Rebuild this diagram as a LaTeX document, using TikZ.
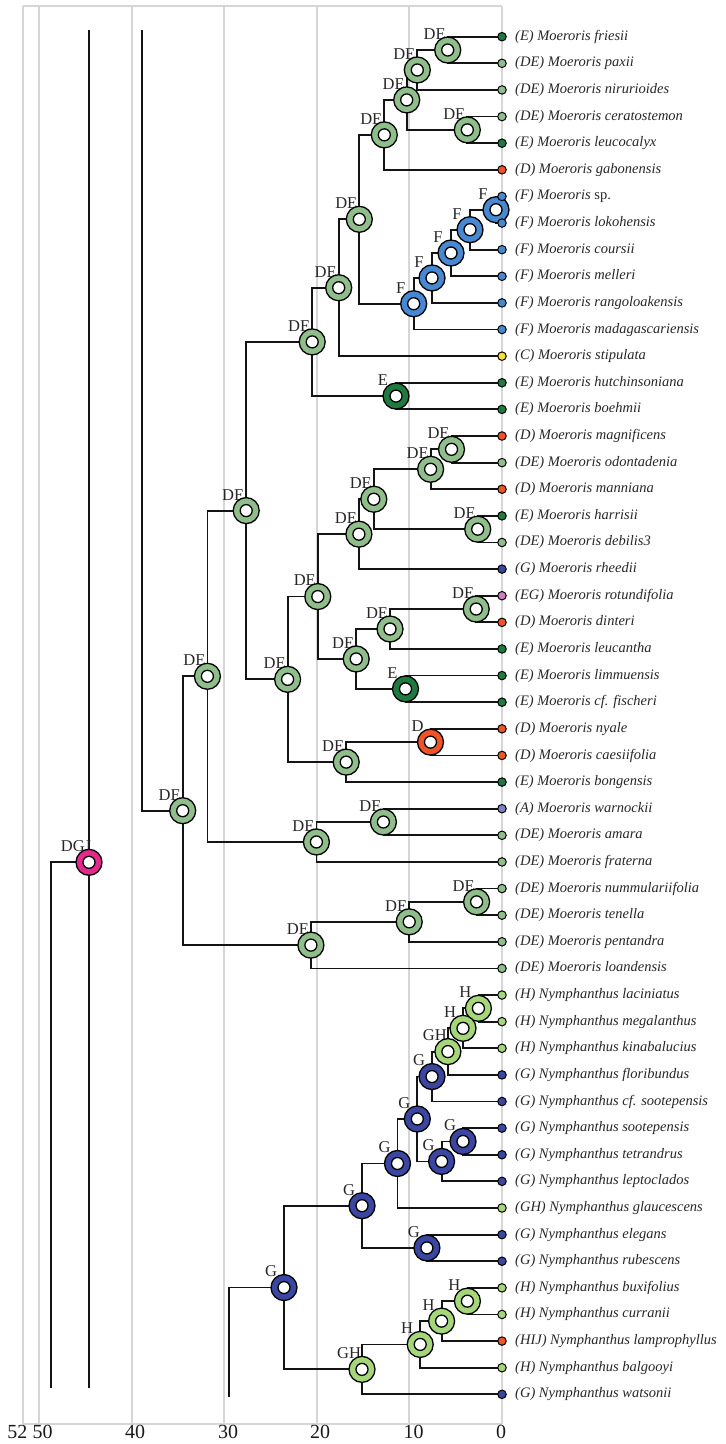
\documentclass[tikz,border=0pt]{standalone}
\usepackage{fontspec}
\setmainfont{Liberation Serif}
\usetikzlibrary{calc}
\definecolor{cDE}{RGB}{143,190,139}
\definecolor{cE}{RGB}{30,122,62}
\definecolor{cF}{RGB}{72,136,208}
\definecolor{cD}{RGB}{238,84,40}
\definecolor{cC}{RGB}{246,226,48}
\definecolor{cG}{RGB}{58,70,160}
\definecolor{cH}{RGB}{166,214,122}
\definecolor{cEG}{RGB}{206,126,192}
\definecolor{cA}{RGB}{128,128,200}
\definecolor{cDGJ}{RGB}{228,40,140}
\definecolor{gridc}{RGB}{214,214,214}
\newcommand\tiplab[3]{\node[tipdot=#2] (d#1) at (t#1) {}; \node[tiptext] (l#1) at ([xshift=13pt]t#1) {#3};}
\newcommand\twoedges[3]{\draw[edge] (#1) |- (#2); \draw[edge] (#1) |- (#3);}
\newcommand\anc[3]{\node[nlab] (lab#1) at ([xshift=-13pt,yshift=16pt]#1) {#2}; \node[ring=#3] (R#1) at (#1) {};}
\begin{document}
\begin{tikzpicture}[x=1pt,y=-1pt,
  edge/.style={line width=1.8pt,draw=black!92},
  gridline/.style={line width=1.8pt,draw=gridc},
  ring/.style={circle,draw=black,line width=1.3pt,fill=#1,minimum size=26pt,inner sep=0pt,
    path picture={\filldraw[fill=white,draw=black,line width=1.3pt] (path picture bounding box.center) circle (6pt);}},
  tipdot/.style={circle,draw=black,line width=1pt,fill=#1,minimum size=8.5pt,inner sep=0pt},
  tiptext/.style={anchor=west,inner sep=0pt,font=\fontsize{14.5}{17}\selectfont\itshape,text=black!85},
  nlab/.style={inner sep=0pt,font=\fontsize{16.5}{18}\selectfont,text=black!85},
  axlab/.style={anchor=north,inner sep=0pt,font=\fontsize{20}{22}\selectfont,text=black!90}]
\useasboundingbox (0,0) rectangle (726,1444);
% grid / frame
\foreach \gx in {23.3,39.3,131.7,224.3,316.7,409.3,502}{\draw[gridline] (\gx,6) -- (\gx,1424);}
\coordinate (fa) at (23.3,6); \coordinate (fb) at (502,6);
\coordinate (fc) at (23.3,1424); \coordinate (fd) at (502,1424);
\draw[gridline] (fa) -- (fb);
\draw[gridline] (fc) -- (fd);
\foreach \lx/\lt in {17.5/52,42.5/50,135/40,228/30,320/20,413.7/10,501/0}{\node[axlab] at (\lx,1425) {\lt};}
% tips
\foreach \i in {1,...,52}{\coordinate (t\i) at (502,{36.7+(\i-1)*26.62});}
% internal nodes
\coordinate (n1) at (447.7,50.01);
\coordinate (n2) at (417.3,69.98);
\coordinate (n4) at (467.3,129.87);
\coordinate (n3) at (406.7,99.92);
\coordinate (n5) at (384.3,134.86);
\coordinate (f1) at (496,209.73);
\coordinate (f2) at (470,229.70);
\coordinate (f3) at (451,252.99);
\coordinate (f4) at (432,277.94);
\coordinate (f5) at (413.7,303.73);
\coordinate (n6) at (359.3,219.30);
\coordinate (n7) at (338.7,287.72);
\coordinate (e1) at (396,396.07);
\coordinate (n8) at (312.2,341.90);
\coordinate (m1) at (451.5,449.31);
\coordinate (m2) at (430.6,469.28);
\coordinate (m3) at (477.7,529.17);
\coordinate (m4) at (373.8,499.22);
\coordinate (m5) at (358.9,534.16);
\coordinate (r1) at (476.2,609.03);
\coordinate (r2) at (390,629.00);
\coordinate (e2) at (405.5,688.89);
\coordinate (r3) at (356.2,658.94);
\coordinate (r4) at (317.8,596.55);
\coordinate (d1) at (430.5,742.13);
\coordinate (d2) at (346.2,762.10);
\coordinate (r5) at (287.6,679.32);
\coordinate (big) at (246.2,510.61);
\coordinate (w1) at (383.4,821.99);
\coordinate (w2) at (316.4,841.96);
\coordinate (c1) at (207.4,676.28);
\coordinate (k1) at (476.6,901.85);
\coordinate (k2) at (409.2,921.82);
\coordinate (k3) at (310.9,945.11);
\coordinate (mroot) at (182.7,810.70);
\coordinate (h1) at (478.4,1008.33);
\coordinate (h2) at (463,1028.30);
\coordinate (h3) at (447.9,1051.59);
\coordinate (g1) at (432,1076.55);
\coordinate (g2) at (463,1141.43);
\coordinate (g3) at (441.6,1161.40);
\coordinate (g4) at (417.3,1118.98);
\coordinate (g5) at (397.5,1163.48);
\coordinate (g6) at (426.9,1247.91);
\coordinate (g7) at (362,1205.70);
\coordinate (h4) at (467.4,1301.15);
\coordinate (h5) at (441.6,1321.12);
\coordinate (h6) at (420.2,1344.41);
\coordinate (gh) at (362,1369.37);
\coordinate (nroot) at (284,1287.54);
\coordinate (root) at (89,862.3);
\coordinate (rt) at (89,30); \coordinate (rb) at (89,1388);
\coordinate (rl) at (51,862.3); \coordinate (rlb) at (51,1388);
\coordinate (ms) at (142.3,30); \coordinate (ns) at (228.7,1397);
% edges
\twoedges{n1}{t1}{t2}
\twoedges{n2}{n1}{t3}
\twoedges{n4}{t4}{t5}
\twoedges{n3}{n2}{n4}
\twoedges{n5}{n3}{t6}
\twoedges{f1}{t7}{t8}
\twoedges{f2}{f1}{t9}
\twoedges{f3}{f2}{t10}
\twoedges{f4}{f3}{t11}
\twoedges{f5}{f4}{t12}
\twoedges{n6}{n5}{f5}
\twoedges{n7}{n6}{t13}
\twoedges{e1}{t14}{t15}
\twoedges{n8}{n7}{e1}
\twoedges{m1}{t16}{t17}
\twoedges{m2}{m1}{t18}
\twoedges{m3}{t19}{t20}
\twoedges{m4}{m2}{m3}
\twoedges{m5}{m4}{t21}
\twoedges{r1}{t22}{t23}
\twoedges{r2}{r1}{t24}
\twoedges{e2}{t25}{t26}
\twoedges{r3}{r2}{e2}
\twoedges{r4}{m5}{r3}
\twoedges{d1}{t27}{t28}
\twoedges{d2}{d1}{t29}
\twoedges{r5}{r4}{d2}
\twoedges{big}{n8}{r5}
\twoedges{w1}{t30}{t31}
\twoedges{w2}{w1}{t32}
\twoedges{c1}{big}{w2}
\twoedges{k1}{t33}{t34}
\twoedges{k2}{k1}{t35}
\twoedges{k3}{k2}{t36}
\twoedges{mroot}{c1}{k3}
\twoedges{h1}{t37}{t38}
\twoedges{h2}{h1}{t39}
\twoedges{h3}{h2}{t40}
\twoedges{g1}{h3}{t41}
\twoedges{g2}{t42}{t43}
\twoedges{g3}{g2}{t44}
\twoedges{g4}{g1}{g3}
\twoedges{g5}{g4}{t45}
\twoedges{g6}{t46}{t47}
\twoedges{g7}{g5}{g6}
\twoedges{h4}{t48}{t49}
\twoedges{h5}{h4}{t50}
\twoedges{h6}{h5}{t51}
\twoedges{gh}{h6}{t52}
\twoedges{nroot}{g7}{gh}
\draw[edge] (rt) -- (rb);
\draw[edge] (rlb) -- (rl) -- (root);
\draw[edge] (ms) |- (mroot);
\draw[edge] (ns) |- (nroot);
% ancestral states
\anc{n1}{DE}{cDE} \anc{n2}{DE}{cDE} \anc{n4}{DE}{cDE} \anc{n3}{DE}{cDE} \anc{n5}{DE}{cDE}
\anc{f5}{F}{cF} \anc{f4}{F}{cF} \anc{f3}{F}{cF} \anc{f2}{F}{cF} \anc{f1}{F}{cF}
\anc{n6}{DE}{cDE} \anc{n7}{DE}{cDE} \anc{e1}{E}{cE} \anc{n8}{DE}{cDE}
\anc{m1}{DE}{cDE} \anc{m2}{DE}{cDE} \anc{m3}{DE}{cDE} \anc{m4}{DE}{cDE} \anc{m5}{DE}{cDE}
\anc{r1}{DE}{cDE} \anc{r2}{DE}{cDE} \anc{e2}{E}{cE} \anc{r3}{DE}{cDE} \anc{r4}{DE}{cDE}
\anc{d1}{D}{cD} \anc{d2}{DE}{cDE} \anc{r5}{DE}{cDE} \anc{big}{DE}{cDE}
\anc{w1}{DE}{cDE} \anc{w2}{DE}{cDE} \anc{c1}{DE}{cDE}
\anc{k1}{DE}{cDE} \anc{k2}{DE}{cDE} \anc{k3}{DE}{cDE} \anc{mroot}{DE}{cDE}
\anc{h1}{H}{cH} \anc{h2}{H}{cH} \anc{h3}{GH}{cH} \anc{g1}{G}{cG}
\anc{g2}{G}{cG} \anc{g3}{G}{cG} \anc{g4}{G}{cG} \anc{g5}{G}{cG} \anc{g6}{G}{cG} \anc{g7}{G}{cG}
\anc{h4}{H}{cH} \anc{h5}{H}{cH} \anc{h6}{H}{cH} \anc{gh}{GH}{cH} \anc{nroot}{G}{cG}
\anc{root}{DGJ}{cDGJ}
% tips
\tiplab{1}{cE}{(E) Moeroris friesii}
\tiplab{2}{cDE}{(DE) Moeroris paxii}
\tiplab{3}{cDE}{(DE) Moeroris nirurioides}
\tiplab{4}{cDE}{(DE) Moeroris ceratostemon}
\tiplab{5}{cE}{(E) Moeroris leucocalyx}
\tiplab{6}{cD}{(D) Moeroris gabonensis}
\tiplab{7}{cF}{(F) Moeroris {\upshape sp.}}
\tiplab{8}{cF}{(F) Moeroris lokohensis}
\tiplab{9}{cF}{(F) Moeroris coursii}
\tiplab{10}{cF}{(F) Moeroris melleri}
\tiplab{11}{cF}{(F) Moeroris rangoloakensis}
\tiplab{12}{cF}{(F) Moeroris madagascariensis}
\tiplab{13}{cC}{(C) Moeroris stipulata}
\tiplab{14}{cE}{(E) Moeroris hutchinsoniana}
\tiplab{15}{cE}{(E) Moeroris boehmii}
\tiplab{16}{cD}{(D) Moeroris magnificens}
\tiplab{17}{cDE}{(DE) Moeroris odontadenia}
\tiplab{18}{cD}{(D) Moeroris manniana}
\tiplab{19}{cE}{(E) Moeroris harrisii}
\tiplab{20}{cDE}{(DE) Moeroris debilis3}
\tiplab{21}{cG}{(G) Moeroris rheedii}
\tiplab{22}{cEG}{(EG) Moeroris rotundifolia}
\tiplab{23}{cD}{(D) Moeroris dinteri}
\tiplab{24}{cE}{(E) Moeroris leucantha}
\tiplab{25}{cE}{(E) Moeroris limmuensis}
\tiplab{26}{cE}{(E) Moeroris cf. fischeri}
\tiplab{27}{cD}{(D) Moeroris nyale}
\tiplab{28}{cD}{(D) Moeroris caesiifolia}
\tiplab{29}{cE}{(E) Moeroris bongensis}
\tiplab{30}{cA}{(A) Moeroris warnockii}
\tiplab{31}{cDE}{(DE) Moeroris amara}
\tiplab{32}{cDE}{(DE) Moeroris fraterna}
\tiplab{33}{cDE}{(DE) Moeroris nummulariifolia}
\tiplab{34}{cDE}{(DE) Moeroris tenella}
\tiplab{35}{cDE}{(DE) Moeroris pentandra}
\tiplab{36}{cDE}{(DE) Moeroris loandensis}
\tiplab{37}{cH}{(H) Nymphanthus laciniatus}
\tiplab{38}{cH}{(H) Nymphanthus megalanthus}
\tiplab{39}{cH}{(H) Nymphanthus kinabalucius}
\tiplab{40}{cG}{(G) Nymphanthus floribundus}
\tiplab{41}{cG}{(G) Nymphanthus cf. sootepensis}
\tiplab{42}{cG}{(G) Nymphanthus sootepensis}
\tiplab{43}{cG}{(G) Nymphanthus tetrandrus}
\tiplab{44}{cG}{(G) Nymphanthus leptoclados}
\tiplab{45}{cH}{(GH) Nymphanthus glaucescens}
\tiplab{46}{cG}{(G) Nymphanthus elegans}
\tiplab{47}{cG}{(G) Nymphanthus rubescens}
\tiplab{48}{cH}{(H) Nymphanthus buxifolius}
\tiplab{49}{cH}{(H) Nymphanthus curranii}
\tiplab{50}{cD}{(HIJ) Nymphanthus lamprophyllus}
\tiplab{51}{cH}{(H) Nymphanthus balgooyi}
\tiplab{52}{cG}{(G) Nymphanthus watsonii}
\end{tikzpicture}
\end{document}
